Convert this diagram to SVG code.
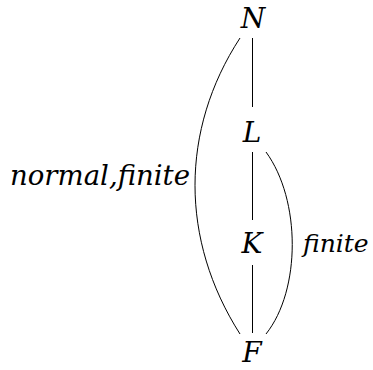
<svg xmlns="http://www.w3.org/2000/svg" width="373" height="370" viewBox="0 0 373 370">
<defs>
<style>
.t{font-style:italic;font-size:28px;fill:#000}
.s{font-size:25px}
.n{text-anchor:middle}
.e{fill:none;stroke:#000;stroke-width:1}
</style>
</defs>
<rect width="373" height="370" fill="#fff"/>
<g id="connectors">
<line class="e" x1="252.5" y1="38" x2="252.5" y2="107"/>
<line class="e" x1="252.5" y1="152" x2="252.5" y2="220"/>
<line class="e" x1="252.5" y1="265" x2="252.5" y2="333"/>
<path class="e" d="M240,38 C180,130 180,240 240,334"/>
<path class="e" d="M266,152 C301,200 301,290 266,334"/>
</g>
<g font-family="'DejaVu Serif', serif">
<g id="N"><text class="t n" x="253" y="28">N</text></g>
<g id="L"><text class="t n" x="252" y="142">L</text></g>
<g id="K"><text class="t n" x="252" y="253">K</text></g>
<g id="F"><text class="t n" x="252" y="362">F</text></g>
<g id="label-left"><text class="t" x="10" y="185" textLength="180" lengthAdjust="spacingAndGlyphs">normal,finite</text></g>
<g id="label-right"><text class="t s" x="303" y="252">finite</text></g>
</g>
</svg>
